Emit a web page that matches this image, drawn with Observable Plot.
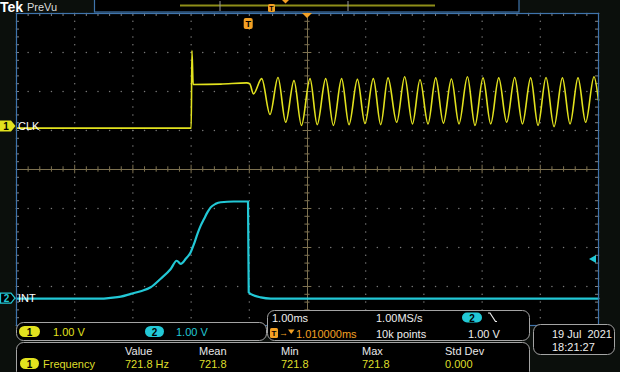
<!DOCTYPE html>
<html><head><meta charset="utf-8">
<script src="https://cdn.jsdelivr.net/npm/d3@7"></script>
<script src="https://cdn.jsdelivr.net/npm/@observablehq/plot@0.6"></script>
<style>
html,body{margin:0;padding:0;background:#0b0f0c;}
#chart{width:620px;height:372px;overflow:hidden;}
svg{display:block;}
</style></head><body><div id="chart"></div>
<script>
// ---- data (time in ms relative to trigger, volts) ----
const clkTime = [-3.99,-0.988,-0.976,-0.954,-0.48,-0.034,0.017,0.081,0.223,0.366,0.503,0.636,0.778,0.906,1.053,1.177,1.323,1.455,1.596,1.723,1.868,1.997,2.141,2.268,2.393,2.543,2.680,2.813,2.943,3.081,3.213,3.345,3.483,3.613,3.758,3.888,4.026,4.158,4.296,4.433,4.570,4.703,4.845,4.971,5.108,5.246,5.390,5.521,5.658,5.790,5.933,6.01];
const clkVolt = [-0.04,-0.04,1.95,1.08,1.09,1.12,1.10,0.84,1.23,0.31,1.26,0.11,1.18,0.03,1.23,0.05,1.23,0.03,1.23,0.05,1.21,0.08,1.23,0.05,1.25,0.11,1.28,0.07,1.20,0.07,1.25,0.09,1.22,0.07,1.28,0.03,1.25,0.07,1.25,0.11,1.26,0.07,1.25,0.03,1.26,0.00,1.25,0.07,1.25,0.11,1.28,0.67];
const intTime = [-3.99,-2.543,-2.371,-2.199,-2.027,-1.856,-1.684,-1.512,-1.340,-1.237,-1.168,-1.082,-0.997,-0.940,-0.881,-0.825,-0.768,-0.710,-0.653,-0.567,-0.481,-0.258,-0.012,0.000,0.091,0.206,0.378,6.01];
const intVolt = [0.00,0.00,0.02,0.05,0.12,0.19,0.29,0.51,0.76,0.97,0.89,1.02,1.19,1.40,1.66,1.87,2.04,2.21,2.34,2.43,2.47,2.49,2.49,0.16,0.08,0.03,0.00,0.00];
const channelNames = ["CLK","INT"];
const channelNums = ["1","2"];
const channelScales = ["1.00 V","1.00 V"];
const measHeaders = ["Value","Mean","Min","Max","Std Dev"];
const measValues = ["721.8 Hz","721.8","721.8","721.8","0.000"];
const measName = "Frequency";
const timebaseText = "1.00ms", sampleRateText = "1.00MS/s", recordText = "10k points";
const trigPosText = "1.010000ms", trigLevelText = "1.00 V";
const dateText = "19 Jul  2021", clockText = "18:21:27";
const trigLevel = 1.00;

// ---- screen setup ----
const T_LEFT = -3.99, T_RIGHT = 6.01, T_CENTER = 1.01;
const CLK_OFF = 1.10, INT_OFF = -3.31; // ground positions in divisions
const YELLOW = "#e2e21e", CYAN = "#22c8d6", BLUE = "#3f74ac", ORANGE = "#f2a024";

const clk = clkTime.map((t,i)=>({t, v: clkVolt[i]}));
const intr = intTime.map((t,i)=>({t, v: intVolt[i]}));

const minorX = d3.range(0,51).map(i => T_LEFT + i*0.2);
const majorX = d3.range(0,11).map(i => T_LEFT + i);
const minorY = d3.range(0,41).map(i => -4 + i*0.2);
const majorY = d3.range(-4,5);
const dots = [];
for (const y of majorY) for (const x of minorX) dots.push({x,y});
for (const x of majorX) for (const y of minorY) dots.push({x,y});
const cxTicks = minorX.map((x,i)=>({x, l: i%5===0 ? 0.11 : 0.07}));
const cyTicks = minorY.map((y,i)=>({y, l: i%5===0 ? 0.075 : 0.045}));
const pxX = 1/58.2, pxY = 1/39;

const chart = Plot.plot({
  width: 620, height: 372,
  marginLeft: 16, marginRight: 22, marginTop: 13, marginBottom: 47,
  x: {domain: [T_LEFT, T_RIGHT], axis: null},
  y: {domain: [-4, 4], axis: null},
  style: {background: "#0b0f0c", color: "white", fontFamily: "Liberation Sans, Arial, sans-serif"},
  marks: [
    Plot.frame({fill: "#000", stroke: null}),
    Plot.dot(dots, {x: "x", y: "y", r: 0.75, fill: "#7a7a7a", stroke: null}),
    Plot.ruleY([0], {stroke: "#7d7150", strokeWidth: 1}),
    Plot.ruleX([T_CENTER], {stroke: "#7d7150", strokeWidth: 1}),
    Plot.ruleX(cxTicks, {x: "x", y1: d => -d.l, y2: d => d.l, stroke: "#7d7150"}),
    Plot.ruleY(cyTicks, {y: "y", x1: d => T_CENTER - d.l, x2: d => T_CENTER + d.l, stroke: "#7d7150"}),
    Plot.ruleX(minorX, {x: d => d, y1: 4, y2: 4 - 3*pxY, stroke: "#808080"}),
    Plot.ruleY(minorY, {y: d => d, x1: T_LEFT, x2: T_LEFT + 3*pxX, stroke: "#808080"}),
    Plot.ruleY(minorY, {y: d => d, x1: T_RIGHT, x2: T_RIGHT - 3*pxX, stroke: "#808080"}),
    Plot.line(intr, {x: "t", y: d => d.v + INT_OFF, stroke: CYAN, strokeWidth: 2.2, curve: "monotone-x"}),
    Plot.line(clk, {x: "t", y: d => d.v + CLK_OFF, stroke: YELLOW, strokeWidth: 1.6, curve: "monotone-x"}),
    Plot.frame({stroke: BLUE, strokeWidth: 1.2})
  ]
});
document.getElementById("chart").appendChild(chart);

const xs = chart.scale("x"), ys = chart.scale("y");
const X = xs.apply ? v => xs.apply(v) : d3.scaleLinear([T_LEFT,T_RIGHT],[16,598]);
const Y = ys.apply ? v => ys.apply(v) : d3.scaleLinear([-4,4],[325,13]);

const svg = d3.select(chart);
const g = svg.append("g")
  .attr("font-family", "Liberation Sans, Arial, sans-serif")
  .attr("font-size", 11)
  .attr("text-anchor", "start")
  .style("text-anchor", "start");

function txt(x, y, s, fill, opts = {}) {
  const t = g.append("text").attr("x", x).attr("y", y).attr("fill", fill)
    .attr("dominant-baseline", "central")
    .style("text-anchor", opts.anchor || "start")
    .text(s);
  if (opts.size) t.attr("font-size", opts.size);
  if (opts.weight) t.attr("font-weight", opts.weight);
  return t;
}
function pill(x, y, w, h, fill, label) {
  g.append("rect").attr("x", x).attr("y", y).attr("width", w).attr("height", h).attr("rx", h/2).attr("fill", fill);
  txt(x + w/2, y + h/2 + 0.5, label, "#000", {anchor: "middle", weight: "bold", size: 10});
}
function panel(x, y, w, h) {
  g.append("rect").attr("x", x).attr("y", y).attr("width", w).attr("height", h).attr("rx", 7)
    .attr("fill", "#000").attr("stroke", "#a4a4a4").attr("stroke-width", 1);
}

// ---- top bar ----
txt(0, 7, "Tek", "#fff", {size: 14, weight: "bold"});
txt(27, 7, "PreVu", "#dcdcdc", {size: 11});
g.append("rect").attr("x", 94.5).attr("y", -2).attr("width", 424.5).attr("height", 14)
  .attr("fill", "#000").attr("stroke", BLUE).attr("stroke-width", 1.2);
g.append("line").attr("x1", 180).attr("x2", 435).attr("y1", 5.6).attr("y2", 5.6).attr("stroke", "#8e8e18").attr("stroke-width", 2);
for (const px of [220, 348]) g.append("line").attr("x1", px).attr("x2", px).attr("y1", 1).attr("y2", 11).attr("stroke", "#9a9a9a");
g.append("rect").attr("x", 268).attr("y", 4).attr("width", 7).attr("height", 8).attr("rx", 1.5).attr("fill", ORANGE);
txt(271.5, 8.5, "T", "#000", {anchor: "middle", weight: "bold", size: 7});
g.append("path").attr("d", "M282,0 L289,0 L285.5,3.5 Z").attr("fill", ORANGE);

// ---- trigger markers in graticule ----
const tx = X(0);
g.append("rect").attr("x", tx - 4.5).attr("y", 18).attr("width", 9).attr("height", 11).attr("rx", 2).attr("fill", ORANGE);
txt(tx, 24, "T", "#000", {anchor: "middle", weight: "bold", size: 9});
const cx = X(T_CENTER);
g.append("path").attr("d", `M${cx-5},13 L${cx+5},13 L${cx},18 Z`).attr("fill", ORANGE);
const ty = Y(INT_OFF + trigLevel);
g.append("path").attr("d", `M589,${ty} L596,${ty-4} L596,${ty+4} Z`).attr("fill", CYAN);

// ---- channel markers ----
const y1 = Y(CLK_OFF), y2 = Y(INT_OFF);
g.append("path").attr("d", `M0,${y1-5.5} L11,${y1-5.5} L15.5,${y1} L11,${y1+5.5} L0,${y1+5.5} Z`).attr("fill", YELLOW);
txt(6, y1 + 0.5, channelNums[0], "#000", {anchor: "middle", weight: "bold", size: 10});
txt(18, y1, channelNames[0], "#fff", {size: 11});
g.append("path").attr("d", `M0.5,${y2-5} L11,${y2-5} L15,${y2} L11,${y2+5} L0.5,${y2+5} Z`).attr("fill", "#000").attr("stroke", CYAN).attr("stroke-width", 1.2);
txt(6.5, y2 + 0.5, channelNums[1], CYAN, {anchor: "middle", weight: "bold", size: 10});
txt(18, y2, channelNames[1], "#fff", {size: 11});

// ---- bottom panels ----
panel(16.5, 322.5, 250, 18);
pill(19, 326, 21, 11, YELLOW, channelNums[0]);
txt(53, 331.5, channelScales[0], YELLOW);
pill(145, 326, 19, 11, CYAN, channelNums[1]);
txt(176, 331.5, channelScales[1], CYAN);

panel(267.5, 310.5, 262, 30);
txt(272, 317.5, timebaseText, "#eee");
txt(376, 317.5, sampleRateText, "#eee");
pill(462, 312.5, 20, 10, CYAN, channelNums[1]);
g.append("path").attr("d", "M488,313 L490,313 L495.5,321.5 L497,321.5").attr("fill", "none").attr("stroke", "#eee").attr("stroke-width", 1.2);
g.append("rect").attr("x", 270).attr("y", 328).attr("width", 8).attr("height", 10).attr("rx", 1.5).attr("fill", ORANGE);
txt(274, 333.5, "T", "#000", {anchor: "middle", weight: "bold", size: 8});
txt(279, 333, "\u2192", ORANGE, {size: 9});
g.append("path").attr("d", "M288,329.5 L294.5,329.5 L291.25,334 Z").attr("fill", ORANGE);
txt(296, 333.5, trigPosText, ORANGE);
txt(376, 333.5, recordText, "#eee");
txt(468, 333.5, trigLevelText, "#eee");

panel(16.5, 342.5, 513, 36);
const colX = [125, 199, 281, 362, 445];
measHeaders.forEach((h,i) => txt(colX[i], 350.5, h, "#e8e8e8"));
pill(20, 358, 19, 11, YELLOW, "1");
txt(43, 363.5, measName, "#dede2a");
measValues.forEach((v,i) => txt(colX[i], 363.5, v, "#dede2a"));

panel(533.5, 324.5, 81, 30);
txt(552, 333.5, dateText, "#eee");
txt(552, 347, clockText, "#eee");
</script></body></html>
